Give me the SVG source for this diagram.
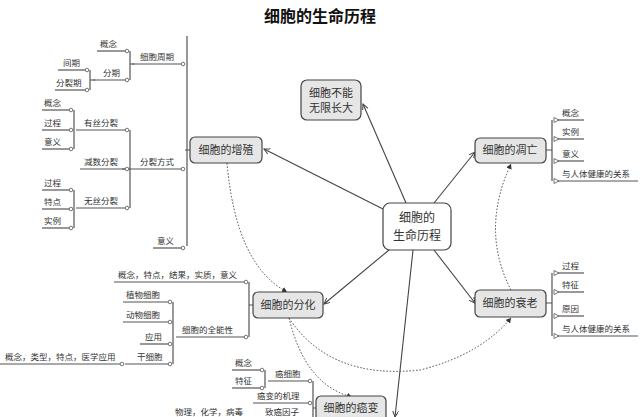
<svg xmlns="http://www.w3.org/2000/svg" width="640" height="417" viewBox="0 0 640 417">
<defs>
<marker id="c" markerWidth="6" markerHeight="6" refX="3" refY="3" markerUnits="userSpaceOnUse"><circle cx="3" cy="3" r="1.8" fill="#fff" stroke="#555" stroke-width="0.8"/></marker>
<marker id="t" markerWidth="7" markerHeight="7" refX="1" refY="3.5" markerUnits="userSpaceOnUse" orient="auto"><path d="M6,3.5 L1,1 L1,6 Z" fill="#fff" stroke="#555" stroke-width="0.8"/></marker>
<marker id="a" markerWidth="8" markerHeight="8" refX="6" refY="3" markerUnits="userSpaceOnUse" orient="auto"><path d="M0,0 L6,3 L0,6" fill="none" stroke="#444" stroke-width="1"/></marker>
<marker id="d" markerWidth="6" markerHeight="6" refX="5" refY="3" markerUnits="userSpaceOnUse" orient="auto"><path d="M0,0 L5,3 L0,6 Z" fill="#333"/></marker>
</defs>
<style>
text{font-family:"Noto Sans CJK SC","Noto Sans",sans-serif;fill:#333}
.s{font-size:8.5px}
.n{font-size:11px;text-anchor:middle}
.box{fill:#e6e6e6;stroke:#444;stroke-width:1.2}
.l{fill:none;stroke:#555;stroke-width:1.2}
.lc{fill:none;stroke:#555;stroke-width:1.2;marker-end:url(#c)}
.lt{fill:none;stroke:#555;stroke-width:1.2;marker-start:url(#t)}
.m{fill:none;stroke:#444;stroke-width:1.1;marker-end:url(#a)}
.dt{fill:none;stroke:#444;stroke-width:1;stroke-dasharray:1.5 1.8;marker-end:url(#d)}
</style>
<rect width="640" height="417" fill="#fff"/>
<text x="320" y="22" style="font-size:16px;text-anchor:middle;font-weight:bold;fill:#111">细胞的生命历程</text>
<g id="connectors">
<path class="m" d="M406,203 L363,104"/>
<path class="m" d="M434,203 L475,152"/>
<path class="m" d="M434,250 L475,303"/>
<path class="m" d="M389,250 L324,304"/>
<path class="m" d="M383,209 L264,149"/>
<path class="m" d="M413,250 L395,417"/>
<path class="dt" d="M227,163 Q236,265 287,292"/>
<path class="dt" d="M289,318 Q305,385 352,397"/>
<path class="dt" d="M289,318 Q330,380 420,370 Q480,355 511,318"/>
<path class="dt" d="M511,290 Q480,230 511,164"/>
<path class="l" d="M190,150 L185,150 M187,36 L187,246"/>
<path class="lc" d="M132,64 L183,64"/><path class="lc" d="M122,169 L183,169"/><path class="lc" d="M153,248 L183,248"/>
<path class="l" d="M130,51 L130,80 M130,64 L134,64"/>
<path class="lc" d="M97,51 L127,51"/><path class="lc" d="M93,80 L127,80"/>
<path class="l" d="M90,70 L90,90 M90,80 L95,80"/>
<path class="lc" d="M58,70 L87,70"/><path class="lc" d="M55,90 L87,90"/>
<path class="l" d="M130,130 L130,208"/>
<path class="lc" d="M76,130 L127,130"/><path class="lc" d="M80,169 L127,169"/><path class="lc" d="M76,208 L127,208"/>
<path class="l" d="M74,110 L74,149"/>
<path class="lc" d="M42,110 L71,110"/><path class="lc" d="M42,130 L71,130"/><path class="lc" d="M42,149 L71,149"/>
<path class="l" d="M74,190 L74,228"/>
<path class="lc" d="M42,190 L71,190"/><path class="lc" d="M42,209 L71,209"/><path class="lc" d="M42,228 L71,228"/>
<path class="l" d="M249,282 L249,337 M249,305 L253,305"/>
<path class="lc" d="M114,282 L246,282"/><path class="lc" d="M176,337 L246,337"/>
<path class="l" d="M173,302 L173,364"/>
<path class="lc" d="M123,302 L170,302"/><path class="lc" d="M123,322 L170,322"/><path class="lc" d="M140,344 L170,344"/><path class="lc" d="M125,364 L170,364"/>
<path class="lc" d="M0,364 L122,364"/>
<path class="l" d="M313,381 L313,417 M313,408 L316,408"/>
<path class="lc" d="M268,381 L310,381"/><path class="lc" d="M253,403 L310,403"/>
<path class="l" d="M265,370 L265,388"/>
<path class="lc" d="M232,370 L262,370"/><path class="lc" d="M232,388 L262,388"/>
<path class="l" d="M546,150 L552,150 M552,120 L552,181"/>
<path class="lt" d="M554,120 L584,120"/><path class="lt" d="M554,139 L584,139"/><path class="lt" d="M554,161 L584,161"/><path class="lt" d="M554,181 L638,181"/>
<path class="l" d="M546,303 L552,303 M552,273 L552,336"/>
<path class="lt" d="M554,273 L584,273"/><path class="lt" d="M554,292 L584,292"/><path class="lt" d="M554,316 L584,316"/><path class="lt" d="M554,336 L638,336"/>
</g>
<g id="labels">
<text class="s" x="140" y="60">细胞周期</text><text class="s" x="140" y="165">分裂方式</text><text class="s" x="157" y="244">意义</text>
<text class="s" x="100" y="47">概念</text><text class="s" x="103" y="76">分期</text>
<text class="s" x="63" y="66">间期</text><text class="s" x="56" y="86">分裂期</text>
<text class="s" x="84" y="126">有丝分裂</text><text class="s" x="84" y="165">减数分裂</text><text class="s" x="84" y="204">无丝分裂</text>
<text class="s" x="44" y="106">概念</text><text class="s" x="44" y="126">过程</text><text class="s" x="44" y="145">意义</text>
<text class="s" x="44" y="186">过程</text><text class="s" x="44" y="205">特点</text><text class="s" x="44" y="224">实例</text>
<text class="s" x="118" y="278">概念，特点，结果，实质，意义</text><text class="s" x="182" y="333">细胞的全能性</text>
<text class="s" x="126" y="298">植物细胞</text><text class="s" x="126" y="318">动物细胞</text><text class="s" x="145" y="340">应用</text><text class="s" x="137" y="360">干细胞</text>
<text class="s" x="5" y="360">概念，类型，特点，医学应用</text>
<text class="s" x="275" y="377">癌细胞</text><text class="s" x="257" y="399">癌变的机理</text>
<text class="s" x="235" y="366">概念</text><text class="s" x="235" y="384">特征</text>
<text class="s" x="265" y="415">致癌因子</text><text class="s" x="175" y="415">物理，化学，病毒</text>
<text class="s" x="562" y="116">概念</text><text class="s" x="562" y="135">实例</text><text class="s" x="562" y="157">意义</text><text class="s" x="562" y="177">与人体健康的关系</text>
<text class="s" x="562" y="269">过程</text><text class="s" x="562" y="288">特征</text><text class="s" x="562" y="312">原因</text><text class="s" x="562" y="332">与人体健康的关系</text>
</g>
<g id="center"><rect x="383" y="203" width="68" height="47" rx="7" fill="#fff" stroke="#444" stroke-width="1.2"/><text class="n" x="417" y="222" style="font-size:12px">细胞的</text><text class="n" x="417" y="240" style="font-size:12px">生命历程</text></g>
<g id="n-size"><rect class="box" x="301" y="80" width="60" height="40" rx="6"/><text class="n" x="331" y="97">细胞不能</text><text class="n" x="331" y="112">无限长大</text></g>
<g id="n-apop"><rect class="box" x="475" y="138" width="71" height="25" rx="5"/><text class="n" x="510" y="154">细胞的凋亡</text></g>
<g id="n-aging"><rect class="box" x="475" y="290" width="71" height="27" rx="5"/><text class="n" x="510" y="307">细胞的衰老</text></g>
<g id="n-prolif"><rect class="box" x="190" y="137" width="72" height="26" rx="5"/><text class="n" x="226" y="154">细胞的增殖</text></g>
<g id="n-diff"><rect class="box" x="253" y="292" width="70" height="26" rx="5"/><text class="n" x="288" y="309">细胞的分化</text></g>
<g id="n-cancer"><rect class="box" x="316" y="396" width="70" height="30" rx="5"/><text class="n" x="351" y="412">细胞的癌变</text></g>
</svg>
